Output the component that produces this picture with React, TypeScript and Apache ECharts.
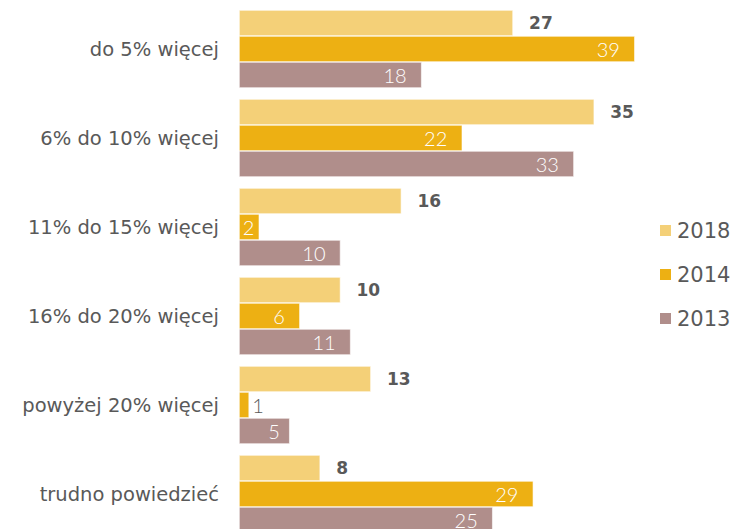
import React, { useEffect, useRef } from "react";
import * as echarts from "echarts";

const categories = [
  "do 5% więcej",
  "6% do 10% więcej",
  "11% do 15% więcej",
  "16% do 20% więcej",
  "powyżej 20% więcej",
  "trudno powiedzieć",
];
const values2018 = [27, 35, 16, 10, 13, 8];
const values2014 = [39, 22, 2, 6, 1, 29];
const values2013 = [18, 33, 10, 11, 5, 25];

const FONT = "'DejaVu Sans', sans-serif";
const LIGHT = "Lato, 'Noto Sans', sans-serif";
const GREY = "#595959";

function innerData(vals: number[]) {
  return vals.map((v) => {
    if (v <= 1) {
      return {
        value: v,
        label: { position: "right", color: GREY, distance: 3 },
      };
    }
    const distance = v >= 6 ? 15 : v >= 3 ? 10 : 5;
    return { value: v, label: { distance } };
  });
}

export default function App() {
  const ref = useRef<HTMLDivElement>(null);
  useEffect(() => {
    if (!ref.current) return;
    const chart = echarts.init(ref.current, null, { renderer: "svg" });
    const common = {
      type: "bar",
      barGap: "0%",
      barCategoryGap: "12.4%",
      itemStyle: { borderColor: "#ffffff", borderWidth: 0.6 },
    };
    const innerLabel = {
      show: true,
      position: "insideRight",
      distance: 15,
      fontFamily: LIGHT,
      fontSize: 20,
      fontWeight: 300,
      color: "#ffffff",
    };
    chart.setOption({
      animation: false,
      backgroundColor: "#ffffff",
      textStyle: { fontFamily: FONT },
      grid: {
        left: 239,
        top: 4.5,
        width: 406,
        height: 534,
        outerBoundsMode: "none",
        containLabel: false,
      },
      legend: {
        orient: "vertical",
        left: 658,
        top: 220,
        padding: 0,
        itemWidth: 13,
        itemHeight: 13,
        itemGap: 23,
        icon: "rect",
        textStyle: { fontFamily: FONT, fontSize: 21, color: GREY },
        data: ["2018", "2014", "2013"],
      },
      xAxis: {
        type: "value",
        min: 0,
        max: 40,
        show: false,
        splitLine: { show: false },
      },
      yAxis: {
        type: "category",
        inverse: true,
        data: categories,
        axisLine: { show: false },
        axisTick: { show: false },
        axisLabel: {
          margin: 20,
          fontFamily: FONT,
          fontSize: 19.5,
          color: GREY,
        },
      },
      series: [
        {
          ...common,
          name: "2018",
          data: values2018,
          itemStyle: { ...common.itemStyle, color: "#F4D078" },
          label: {
            show: true,
            position: "right",
            distance: 16,
            fontFamily: FONT,
            fontSize: 17,
            fontWeight: "bold",
            color: GREY,
          },
        },
        {
          ...common,
          name: "2014",
          data: innerData(values2014),
          itemStyle: { ...common.itemStyle, color: "#EDB013" },
          label: innerLabel,
        },
        {
          ...common,
          name: "2013",
          data: innerData(values2013),
          itemStyle: { ...common.itemStyle, color: "#B08E8B" },
          label: innerLabel,
        },
      ],
    });
    return () => chart.dispose();
  }, []);
  return (
    <div
      ref={ref}
      style={{ position: "fixed", left: 0, top: 0, width: 732, height: 529 }}
    />
  );
}
